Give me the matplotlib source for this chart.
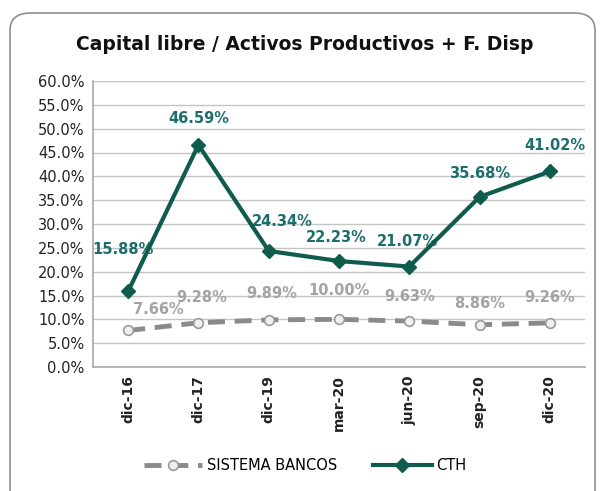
import matplotlib.pyplot as plt
from matplotlib.patches import FancyBboxPatch

periods = ["dic-16", "dic-17", "dic-19", "mar-20", "jun-20", "sep-20", "dic-20"]
sistema = [7.66, 9.28, 9.89, 10.00, 9.63, 8.86, 9.26]
cth = [15.88, 46.59, 24.34, 22.23, 21.07, 35.68, 41.02]

# label offsets (points) for the data labels
cth_off = [(-4, 30), (0, 19), (10, 21), (-2, 17), (-1, 18), (0, 17), (4, 19)]
sis_off = [(22, 15), (2, 18), (2, 19), (0, 21), (0, 18), (0, 15), (0, 18)]

teal = "#0f5b4c"
teal_txt = "#1e6d6d"
gray = "#8a8a8a"
gray_txt = "#a3a3a3"

fig = plt.figure(figsize=(6.01, 4.91), dpi=100)
fig.patches.append(FancyBboxPatch((10 / 601, -0.05), 585 / 601, 1 - 13 / 491 + 0.05,
                                  boxstyle="round,pad=0,rounding_size=0.035",
                                  transform=fig.transFigure, fill=False,
                                  edgecolor="#8f8f8f", linewidth=1.2))

ax = fig.add_axes([93 / 601, 1 - 367 / 491, 492 / 601, 286 / 491])
x = list(range(len(periods)))

ax.plot(x, sistema, color=gray, linestyle=(0, (3.5, 2)), linewidth=3.5,
        marker="o", markersize=7, markerfacecolor="#f0f0f0",
        markeredgecolor="#9a9a9a", markeredgewidth=1.2, label="SISTEMA BANCOS", zorder=3)
ax.plot(x, cth, color=teal, linewidth=3, marker="D", markersize=7,
        markerfacecolor=teal, markeredgecolor=teal, label="CTH", zorder=4)

for i, v in enumerate(cth):
    ax.annotate(f"{v:.2f}%", (i, v), xytext=cth_off[i], textcoords="offset points",
                ha="center", va="center", color=teal_txt, fontsize=10.5, fontweight="bold")
for i, v in enumerate(sistema):
    ax.annotate(f"{v:.2f}%", (i, v), xytext=sis_off[i], textcoords="offset points",
                ha="center", va="center", color=gray_txt, fontsize=10.5, fontweight="bold")

ax.set_xlim(-0.5, 6.5)
ax.set_ylim(0, 60)
ax.set_yticks(range(0, 61, 5))
ax.set_yticklabels([f"{t:.1f}%" for t in range(0, 61, 5)], fontsize=10.5, color="#222222")
ax.set_xticks(x)
ax.set_xticklabels(periods, rotation=90, fontsize=10, fontweight="bold", color="#222222")
ax.tick_params(length=0, pad=6)
ax.grid(axis="y", color="#c4c4c4", linewidth=1)
ax.set_axisbelow(True)
for s in ["top", "right"]:
    ax.spines[s].set_visible(False)
for s in ["left", "bottom"]:
    ax.spines[s].set_color("#a8a8a8")
    ax.spines[s].set_linewidth(1.2)

fig.text(305 / 601, 1 - 45 / 491, "Capital libre / Activos Productivos + F. Disp",
         ha="center", va="center", fontsize=13.5, fontweight="bold", color="#111111")

fig.legend(loc="center", bbox_to_anchor=(305 / 601, 1 - 466 / 491), ncol=2, frameon=False,
           fontsize=10.5, handlelength=4, columnspacing=2.5, handletextpad=0.3)

fig.savefig("out.png", dpi=100)
